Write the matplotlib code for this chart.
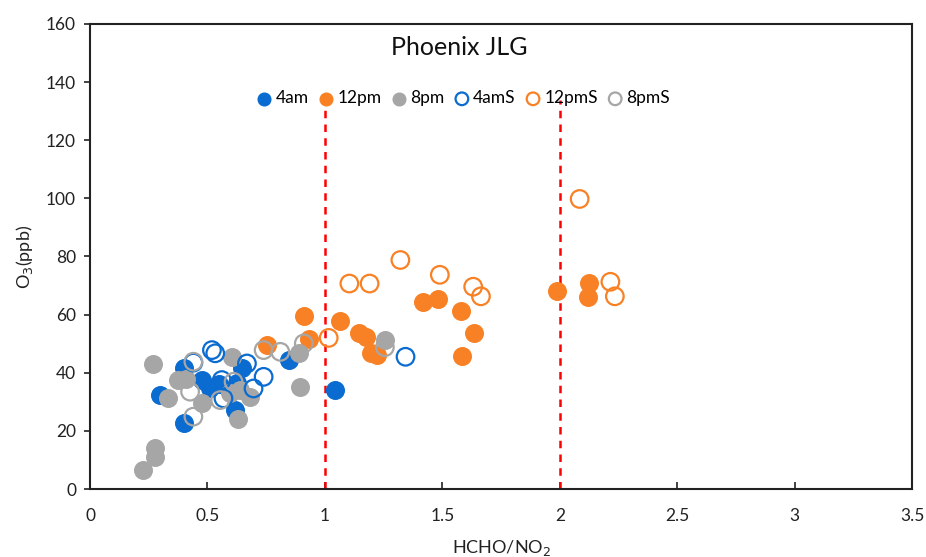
import matplotlib
matplotlib.use("Agg")
import matplotlib.pyplot as plt

plt.rcParams['font.family'] = ['Lato', 'DejaVu Sans']

# 4am (filled blue)
am4_x = [0.40, 0.30, 0.40, 0.476, 0.51, 0.55, 0.647, 0.618, 0.625, 0.845, 1.044]
am4_y = [41.5, 32.3, 22.6, 37.5, 34.6, 36.0, 41.5, 27.2, 36.4, 44.4, 34.0]

# 12pm (filled orange)
pm12_x = [0.753, 0.912, 0.93, 1.066, 1.144, 1.176, 1.196, 1.222, 1.418, 1.48, 1.58, 1.584, 1.634, 1.986, 2.124, 2.121]
pm12_y = [49.5, 59.5, 51.5, 57.8, 53.6, 52.4, 46.7, 46.1, 64.3, 65.5, 61.4, 45.8, 53.8, 68.1, 70.8, 66.0]

# 8pm (filled gray)
pm8_x = [0.27, 0.376, 0.41, 0.334, 0.476, 0.604, 0.597, 0.64, 0.68, 0.632, 0.895, 0.888, 0.277, 0.277, 0.227, 1.255]
pm8_y = [42.9, 37.5, 37.7, 31.2, 29.5, 45.5, 33.0, 34.0, 31.8, 24.0, 35.0, 46.7, 14.0, 11.1, 6.5, 51.3]

# 4amS (open blue)
am4s_x = [0.519, 0.533, 0.668, 0.739, 0.696, 0.561, 0.568, 0.44, 1.343]
am4s_y = [47.8, 46.7, 43.2, 38.6, 34.6, 37.5, 31.2, 43.5, 45.5]

# 12pmS (open orange)
pm12s_x = [1.016, 1.104, 1.19, 1.321, 1.489, 1.631, 1.664, 2.084, 2.215, 2.234]
pm12s_y = [52.0, 70.7, 70.7, 78.8, 73.7, 69.6, 66.3, 99.8, 71.3, 66.3]

# 8pmS (open gray)
pm8s_x = [0.44, 0.426, 0.44, 0.554, 0.611, 0.739, 0.81, 0.91, 1.255]
pm8s_y = [43.8, 33.5, 24.9, 30.6, 36.9, 47.8, 47.2, 50.1, 48.8]

ratio_lines = [1, 2]
x_ticks = [0, 0.5, 1, 1.5, 2, 2.5, 3, 3.5]
x_ticklabels = ['0', '0.5', '1', '1.5', '2', '2.5', '3', '3.5']
y_ticks = [0, 20, 40, 60, 80, 100, 120, 140, 160]

BLUE = '#0A6BD0'
ORANGE = '#F98125'
GRAY = '#A6A6A6'

fig = plt.figure(figsize=(9.26, 5.57), dpi=100)
ax = fig.add_axes([0.0972, 0.122, 0.888, 0.835])

S = 160
lw = 1.6
ax.scatter(am4_x, am4_y, s=S, color=BLUE, label='4am', zorder=3)
ax.scatter(pm12_x, pm12_y, s=S, color=ORANGE, label='12pm', zorder=3)
ax.scatter(pm8_x, pm8_y, s=S, color=GRAY, label='8pm', zorder=3)
ax.scatter(am4s_x, am4s_y, s=S, facecolors='none', edgecolors=BLUE, linewidths=lw, label='4amS', zorder=4)
ax.scatter(pm12s_x, pm12s_y, s=S, facecolors='none', edgecolors=ORANGE, linewidths=lw, label='12pmS', zorder=4)
ax.scatter(pm8s_x, pm8s_y, s=S, facecolors='none', edgecolors=GRAY, linewidths=lw, label='8pmS', zorder=4)

for xv in ratio_lines:
    ax.plot([xv, xv], [0, 134], color='#FF0000', linestyle=(0, (3, 2.5)), linewidth=1.8, zorder=2)

ax.set_xlim(0, 3.5)
ax.set_ylim(0, 160)
ax.set_xticks(x_ticks)
ax.set_xticklabels(x_ticklabels)
ax.set_yticks(y_ticks)
ax.tick_params(axis='x', direction='in', length=5, width=1.2, labelsize=12.5, pad=14, colors='#222222')
ax.tick_params(axis='y', direction='out', length=4, width=1.2, labelsize=12.5, pad=6, colors='#222222')
for sp in ax.spines.values():
    sp.set_linewidth(1.5)
    sp.set_color('#222222')

ax.set_xlabel('HCHO/NO$_2$', fontsize=13, labelpad=10, color='#222222')
ax.set_ylabel('O$_3$(ppb)', fontsize=13, labelpad=8, color='#222222')
ax.text(1.57, 152, 'Phoenix JLG', ha='center', va='center', fontsize=18, color='#111111')

leg = ax.legend(loc='center', bbox_to_anchor=(0.453, 0.84), ncol=6, frameon=False,
                fontsize=12.5, handletextpad=0.1, columnspacing=0.45, markerscale=0.72,
                handlelength=1.1)

fig.savefig('out.png', dpi=100)
